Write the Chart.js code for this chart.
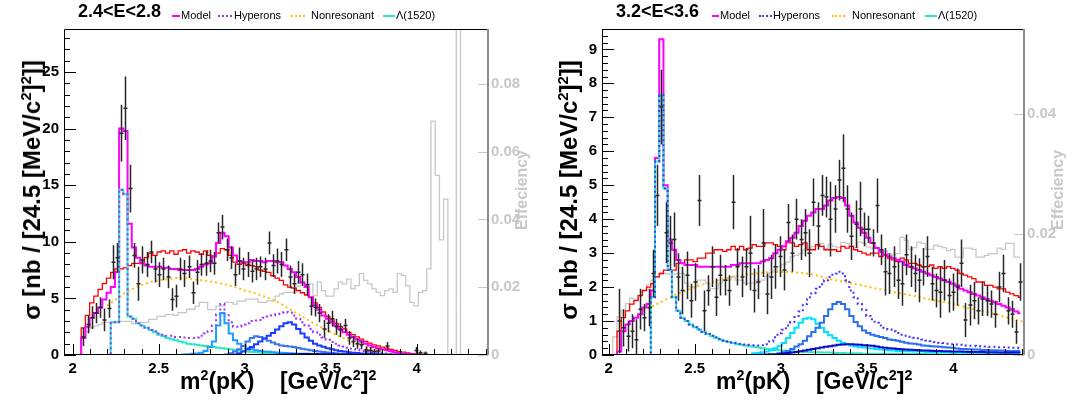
<!DOCTYPE html>
<html>
<head>
<meta charset="utf-8">
<script src="https://cdn.jsdelivr.net/npm/chart.js@4.4.1/dist/chart.umd.min.js"></script>
<style>
  html, body { margin: 0; padding: 0; background: #fff; }
  #wrap { position: relative; width: 1073px; height: 402px; overflow: hidden;
          font-family: "Liberation Sans", Arial, Helvetica, sans-serif; }
  canvas { position: absolute; top: 0; }
  .lbl { position: absolute; white-space: nowrap; line-height: 1; }
  .head { font-weight: bold; font-size: 18px; }
  .leg { font-size: 11px; }
  .sw { position: absolute; width: 0; height: 0; }
  .xt { font-weight: bold; font-size: 23px; }
  .yt { font-weight: bold; font-size: 24px; transform: translate(-50%, -50%) rotate(-90deg); }
  .et { font-weight: bold; font-size: 16px; color: #c8c8c8; transform: translate(-50%, -50%) rotate(-90deg); }
  .sup { font-size: 0.62em; position: relative; top: -0.62em; }
</style>
</head>
<body>
<div id="wrap">
  <canvas id="padLo" width="536" height="402" style="left:0"></canvas>
  <canvas id="padHi" width="537" height="402" style="left:536px"></canvas>

  <!-- left pad headings -->
  <div class="lbl head" style="left:78px;top:2px">2.4&lt;E&lt;2.8</div>
  <div class="sw" style="left:172px;top:15px;width:8px;border-top:2px solid #ff00ff"></div>
  <div class="lbl leg" style="left:181px;top:10px">Model</div>
  <div class="sw" style="left:218px;top:15px;width:14px;border-top:2px dotted #9933ff"></div>
  <div class="lbl leg" style="left:234px;top:10px">Hyperons</div>
  <div class="sw" style="left:291px;top:15px;width:14px;border-top:2px dotted #ffbf00"></div>
  <div class="lbl leg" style="left:311px;top:10px">Nonresonant</div>
  <div class="sw" style="left:383px;top:15px;width:12px;border-top:2px solid #2ee6c8"></div>
  <div class="lbl leg" style="left:396px;top:10px">&Lambda;(1520)</div>

  <!-- right pad headings -->
  <div class="lbl head" style="left:616px;top:2px">3.2&lt;E&lt;3.6</div>
  <div class="sw" style="left:712px;top:15px;width:7px;border-top:2px solid #ff00ff"></div>
  <div class="lbl leg" style="left:720px;top:10px">Model</div>
  <div class="sw" style="left:759px;top:15px;width:13px;border-top:2px dotted #4433ff"></div>
  <div class="lbl leg" style="left:773px;top:10px">Hyperons</div>
  <div class="sw" style="left:832px;top:15px;width:13px;border-top:2px dotted #ffbf00"></div>
  <div class="lbl leg" style="left:852px;top:10px">Nonresonant</div>
  <div class="sw" style="left:925px;top:15px;width:12px;border-top:2px solid #2ee6c8"></div>
  <div class="lbl leg" style="left:938px;top:10px">&Lambda;(1520)</div>

  <!-- axis titles -->
  <div class="lbl yt" style="left:32px;top:190px">&sigma; [nb / [24.5 [MeV/c<span class="sup">2</span>]<span class="sup">2</span>]]</div>
  <div class="lbl yt" style="left:569px;top:190px">&sigma; [nb / [24.5 [MeV/c<span class="sup">2</span>]<span class="sup">2</span>]]</div>
  <div class="lbl xt" style="left:180px;top:370px">m<span class="sup">2</span>(pK)&nbsp;&nbsp;&nbsp;&nbsp;[GeV/c<span class="sup">2</span>]<span class="sup">2</span></div>
  <div class="lbl xt" style="left:716px;top:370px">m<span class="sup">2</span>(pK)&nbsp;&nbsp;&nbsp;&nbsp;[GeV/c<span class="sup">2</span>]<span class="sup">2</span></div>
  <div class="lbl et" style="left:522px;top:190px">Effeciency</div>
  <div class="lbl et" style="left:1058px;top:190px">Effeciency</div>
</div>

<script>
// ------------------------------------------------------------
// m^2(pK) spectra, two beam-energy slices, with fit components
// ------------------------------------------------------------

// binning: 24.5 (MeV/c^2)^2 bins starting at 1.951 GeV^2
const BIN_LO = 1.951;
const BIN_W  = 0.0245;
const NBINS  = 100;

const X_TICKS      = [2, 2.5, 3, 3.5, 4];
const Y_TICKS_LO   = [0, 5, 10, 15, 20, 25];
const Y_TICKS_HI   = [0, 1, 2, 3, 4, 5, 6, 7, 8, 9];
const EFF_TICKS_LO = [0, 0.02, 0.04, 0.06, 0.08];
const EFF_TICKS_HI = [0, 0.02, 0.04];

// ---------------- 2.4 < E < 2.8 ----------------
const modelLoStart = 4;
const modelLo = [1.5, 2.5, 3.3, 3.7, 4.2, 4.9, 5.5, 6.0, 7.3, 20.0, 19.8, 11.6, 9.5, 8.6, 8.1, 7.9,
  7.8, 7.8, 7.8, 7.7, 7.7, 7.6, 7.6, 7.5, 7.5, 7.5, 7.5, 7.6, 7.8, 8.0, 8.1, 8.7, 9.9, 10.8, 10.5, 9.5,
  8.8, 8.3, 8.2, 8.2, 8.4, 8.3, 8.3, 8.2, 8.3, 8.3, 8.2, 8.2, 7.9, 7.6, 7.3, 6.9, 6.4, 6.0, 5.1, 4.4,
  4.0, 3.5, 3.2, 2.9, 2.6, 2.3, 2.0, 1.8, 1.6, 1.4, 1.2, 1.0, 0.85, 0.7, 0.6, 0.5, 0.44, 0.35, 0.25,
  0.18, 0.12, 0.08, 0.05, 0.03];

const sumLoStart = 4;
const sumLo = [2.4, 3.5, 4.6, 5.2, 5.8, 6.3, 6.8, 7.3, 7.6, 7.6, 7.7, 7.9, 8.1, 8.1, 8.2, 8.6, 9.0,
  8.8, 9.1, 9.2, 9.0, 9.2, 8.9, 9.2, 9.3, 9.0, 9.2, 9.1, 8.9, 9.2, 8.8, 8.7, 9.0, 9.4, 9.3, 8.8, 8.2,
  8.0, 8.1, 7.9, 7.9, 7.8, 7.5, 7.4, 7.3, 7.0, 6.8, 6.6, 6.2, 6.0, 5.9, 5.7, 5.5, 5.3, 5.1, 4.6, 4.2,
  3.8, 3.4, 3.1, 2.8, 2.5, 2.3, 2.0, 1.8, 1.6, 1.4, 1.2, 1.05, 0.9, 0.8, 0.7, 0.6, 0.5, 0.4, 0.3,
  0.25, 0.18, 0.12, 0.08, 0.05, 0.02];

const effLoStart = 4;
const effLo = [0.0054, 0.0069, 0.008, 0.0085, 0.009, 0.0096, 0.0096, 0.0096, 0.0099, 0.0099, 0.0099,
  0.0099, 0.0093, 0.0093, 0.0096, 0.0096, 0.0105, 0.0105, 0.0114, 0.0114, 0.012, 0.012, 0.0117,
  0.0125, 0.0125, 0.0135, 0.0135, 0.0144, 0.0155, 0.0155, 0.0134, 0.0134, 0.0144, 0.0144, 0.0155,
  0.0155, 0.015, 0.0159, 0.0159, 0.0165, 0.0165, 0.0165, 0.0155, 0.0155, 0.016, 0.016, 0.0174, 0.018,
  0.0185, 0.0185, 0.0185, 0.0203, 0.0215, 0.0205, 0.021, 0.0175, 0.0215, 0.019, 0.0174, 0.0174,
  0.0195, 0.0215, 0.021, 0.0224, 0.0195, 0.0205, 0.024, 0.022, 0.021, 0.0195, 0.0185, 0.0175, 0.019,
  0.0195, 0.0185, 0.024, 0.0235, 0.0205, 0.0155, 0.0145, 0.0185, 0.019, 0.0254, 0.069, 0.053, 0.034,
  0.046, 0, 0, 0.2];

const hypLoStart = 11;
const hypLo = [2.9, 2.9, 14.6, 14.2, 3.4, 3.2, 2.8, 2.6, 2.4, 2.2, 2.1, 1.9, 1.8, 1.7, 1.7, 1.6, 1.6,
  1.55, 1.5, 1.5, 1.55, 1.7, 1.9, 2.1, 2.6, 3.6, 4.5, 3.6, 2.9, 2.5, 2.5, 2.7, 2.8, 3.0, 3.05, 3.1,
  3.3, 3.4, 3.5, 3.6, 3.75, 3.8, 3.75, 3.5, 3.2, 2.9, 2.6, 2.3, 2.0, 1.8, 1.55, 1.35, 1.15, 1.0, 0.85,
  0.75, 0.65, 0.55, 0.48, 0.42, 0.36, 0.3, 0.25, 0.2, 0.17, 0.14, 0.12, 0.1, 0.08, 0.06, 0.04, 0.03,
  0.02];

const l1520LoStart = 11;
const l1520Lo = [2.9, 2.9, 14.6, 14.2, 3.4, 3.2, 2.8, 2.6, 2.4, 2.2, 2.0, 1.8, 1.65, 1.5, 1.4, 1.3,
  1.2, 1.1, 1.0, 0.95, 0.9, 0.85, 0.8, 0.75, 0.7, 0.65, 0.6, 0.55, 0.5, 0.45, 0.4, 0.35, 0.3, 0.27,
  0.24, 0.21, 0.18, 0.15, 0.13, 0.11, 0.1, 0.09, 0.08, 0.07, 0.06, 0.05, 0.05, 0.04, 0.04, 0.03, 0.03,
  0.02, 0.02, 0.02, 0.01];

const l1690LoStart = 28;
const l1690Lo = [0.05, 0.07, 0.1, 0.14, 0.2, 0.35, 0.7, 1.2, 2.6, 3.7, 2.8, 1.9, 1.3, 1.0, 0.8, 0.6,
  0.5, 0.42, 0.36, 0.32, 0.28, 0.25, 0.22, 0.2, 0.18, 0.16, 0.14, 0.12, 0.11, 0.1, 0.09, 0.08, 0.07,
  0.06, 0.05, 0.05, 0.04, 0.04, 0.03, 0.03, 0.02, 0.02];

const l1800LoStart = 38;
const l1800Lo = [0.05, 0.15, 0.3, 0.5, 0.8, 1.2, 1.5, 1.65, 1.6, 1.45, 1.25, 1.1, 0.95, 0.85, 0.8,
  0.75, 0.7, 0.62, 0.55, 0.48, 0.42, 0.36, 0.3, 0.26, 0.22, 0.18, 0.15, 0.12, 0.1, 0.08, 0.07, 0.06,
  0.05, 0.04, 0.04, 0.03, 0.03, 0.02, 0.02, 0.01, 0.01];

const l1820LoStart = 40;
const l1820Lo = [0.05, 0.15, 0.3, 0.5, 0.7, 0.95, 1.2, 1.45, 1.7, 1.95, 2.25, 2.55, 2.8, 2.9, 2.7,
  2.3, 1.9, 1.55, 1.25, 1.0, 0.85, 0.72, 0.6, 0.5, 0.42, 0.35, 0.3, 0.25, 0.2, 0.17, 0.14, 0.12, 0.1,
  0.08, 0.07, 0.06, 0.05, 0.04, 0.03, 0.03, 0.02, 0.02];

const wideLoStart = 50;
const wideLo = [0.02, 0.03, 0.04, 0.05, 0.06, 0.07, 0.08, 0.08, 0.08, 0.08, 0.07, 0.07, 0.06, 0.06,
  0.05, 0.05, 0.04, 0.04, 0.03, 0.03, 0.02, 0.02, 0.02, 0.01];

const nonresLoX = [2.20, 2.25, 2.30, 2.35, 2.40, 2.45, 2.50, 2.55, 2.60, 2.65, 2.70, 2.75, 2.80, 2.85,
  2.90, 2.95, 3.00, 3.05, 3.10, 3.15, 3.20, 3.25, 3.30, 3.35, 3.40, 3.45, 3.50, 3.55, 3.60, 3.65, 3.70,
  3.75, 3.80, 3.85, 3.90, 3.95, 4.00];
const nonresLoY = [4.35, 4.9, 5.45, 5.85, 6.2, 6.45, 6.6, 6.7, 6.8, 6.8, 6.7, 6.6, 6.5, 6.35, 6.2,
  5.95, 5.7, 5.5, 5.25, 4.95, 4.6, 4.15, 3.7, 3.25, 2.8, 2.4, 2.0, 1.65, 1.3, 0.95, 0.7, 0.5, 0.37,
  0.24, 0.13, 0.05, 0];

const dataLoStart = 4;
const dataLo = [1.6, 2.7, 3.3, 3.7, 4.2, 3.1, 4.1, 8.2, 8.6, 19.6, 21.8, 14.7, 8.8, 6.3, 8.4, 8.0,
  9.1, 7.6, 7.1, 7.6, 6.9, 4.9, 5.2, 7.6, 7.2, 7.8, 5.5, 7.3, 8.0, 8.1, 8.3, 8.1, 10.8, 11.3, 9.3, 8.6,
  7.1, 8.3, 7.6, 8.0, 7.4, 7.6, 7.8, 7.6, 9.9, 7.9, 8.3, 8.0, 9.3, 6.9, 6.3, 7.3, 7.1, 6.2, 4.3, 4.2,
  3.7, 2.3, 2.8, 3.2, 2.5, 2.2, 2.6, 1.5, 1.2, 1.0, 0.9, 0.44, 0.4, 0.3, 0.35, null, 0.8, null, null,
  null, null, null, null, 0.4, 0.2, 0.15];
const errLo = [0.8, 0.8, 1.0, 0.9, 0.9, 1.0, 0.8, 1.5, 1.3, 2.5, 2.8, 2.1, 1.1, 1.5, 1.2, 1.1, 1.0,
  1.2, 1.1, 1.0, 1.0, 1.0, 1.0, 1.0, 1.2, 1.0, 1.0, 1.1, 1.0, 1.1, 1.0, 1.0, 0.9, 1.1, 1.0, 1.0, 1.0,
  1.2, 1.0, 1.1, 1.0, 1.0, 0.9, 1.0, 1.0, 1.0, 1.1, 1.1, 1.0, 1.0, 0.9, 1.0, 1.0, 1.0, 0.8, 0.8, 0.8,
  0.8, 0.8, 0.7, 0.7, 0.6, 0.6, 0.6, 0.5, 0.45, 0.4, 0.3, 0.3, 0.25, 0.25, 0, 0.35, 0, 0, 0, 0, 0, 0,
  0.3, 0.2, 0.15];

// ---------------- 3.2 < E < 3.6 ----------------
const modelHiStart = 4;
const modelHi = [0.1, 0.7, 0.9, 1.0, 1.1, 1.2, 1.4, 1.5, 1.9, 5.8, 9.3, 5.0, 3.4, 3.1, 2.8, 2.7,
  2.65, 2.65, 2.65, 2.6, 2.6, 2.6, 2.6, 2.6, 2.6, 2.6, 2.6, 2.65, 2.65, 2.7, 2.7, 2.7, 2.7, 2.7, 2.75,
  2.8, 2.85, 3.0, 3.1, 3.2, 3.35, 3.45, 3.6, 3.8, 3.95, 4.1, 4.2, 4.3, 4.3, 4.4, 4.55, 4.62, 4.65,
  4.62, 4.4, 4.1, 3.9, 3.75, 3.6, 3.45, 3.3, 3.15, 3.05, 2.95, 2.9, 2.85, 2.8, 2.75, 2.65, 2.6, 2.55,
  2.5, 2.45, 2.4, 2.35, 2.3, 2.25, 2.2, 2.15, 2.1, 2.05, 1.95, 1.9, 1.85, 1.8, 1.75, 1.7, 1.65, 1.6,
  1.55, 1.5, 1.45, 1.4, 1.35, 1.28, 1.23];

const sumHiStart = 4;
const sumHi = [0.7, 1.1, 1.3, 1.5, 1.6, 1.75, 1.9, 2.0, 2.1, 2.3, 2.4, 2.5, 2.5, 2.5, 2.7, 2.7, 2.8,
  2.8, 2.75, 2.85, 2.85, 3.0, 3.0, 3.1, 3.1, 3.05, 3.1, 3.2, 3.1, 3.2, 3.1, 3.15, 3.25, 3.2, 3.2, 3.3,
  3.3, 3.25, 3.2, 3.1, 3.3, 3.3, 3.2, 3.25, 3.3, 3.1, 3.1, 3.25, 3.2, 3.1, 3.1, 3.1, 3.05, 3.2, 3.15,
  3.2, 3.1, 3.05, 3.0, 2.95, 3.0, 3.0, 2.9, 2.95, 2.85, 2.8, 2.75, 2.85, 2.8, 2.7, 2.7, 2.65, 2.6, 2.6,
  2.65, 2.55, 2.6, 2.55, 2.6, 2.55, 2.5, 2.4, 2.35, 2.3, 2.25, 2.15, 2.15, 2.05, 2.05, 2.0, 1.95,
  1.95, 1.85, 1.8, 1.75, 1.7];

const effHiStart = 3;
const effHi = [0.003, 0.0063, 0.0074, 0.0085, 0.0094, 0.0092, 0.0099, 0.0107, 0.0116, 0.0124,
  0.0129, 0.0135, 0.0135, 0.0134, 0.0134, 0.0135, 0.0135, 0.0119, 0.0113, 0.0113, 0.0124, 0.0124,
  0.0119, 0.011, 0.011, 0.0119, 0.0124, 0.0124, 0.013, 0.0124, 0.0124, 0.0119, 0.0119, 0.0119,
  0.0124, 0.0124, 0.013, 0.0137, 0.014, 0.0146, 0.015, 0.0154, 0.0163, 0.0165, 0.0168, 0.0174,
  0.0177, 0.018, 0.0181, 0.0185, 0.0176, 0.0183, 0.018, 0.0178, 0.0187, 0.0185, 0.018, 0.0178,
  0.0187, 0.0185, 0.0179, 0.0177, 0.0177, 0.017, 0.0172, 0.0168, 0.0166, 0.0168, 0.0195, 0.019,
  0.0175, 0.0178, 0.0187, 0.0185, 0.0175, 0.0175, 0.0182, 0.018, 0.0178, 0.0173, 0.0175, 0.0162,
  0.0162, 0.0177, 0.0177, 0.0175, 0.0162, 0.0162, 0.0165, 0.0168, 0.0168, 0.0177, 0.0175, 0.0185,
  0.0185, 0.0162, 0.0162];

const hypHiStart = 12;
const hypHi = [1.7, 5.7, 7.65, 4.9, 2.5, 1.7, 1.3, 1.1, 1.0, 0.9, 0.82, 0.75, 0.68, 0.62, 0.57, 0.52,
  0.47, 0.43, 0.4, 0.37, 0.35, 0.33, 0.31, 0.3, 0.29, 0.28, 0.29, 0.32, 0.4, 0.52, 0.64, 0.74, 0.87,
  0.97, 1.12, 1.28, 1.5, 1.7, 1.82, 1.95, 2.08, 2.2, 2.3, 2.4, 2.45, 2.4, 2.2, 1.9, 1.7, 1.5, 1.33,
  1.15, 1.05, 0.95, 0.87, 0.8, 0.75, 0.7, 0.65, 0.6, 0.57, 0.54, 0.51, 0.49, 0.46, 0.43, 0.41, 0.38,
  0.36, 0.35, 0.33, 0.32, 0.31, 0.3, 0.28, 0.27, 0.27, 0.26, 0.25, 0.25, 0.24, 0.24, 0.23, 0.23, 0.22,
  0.21, 0.21, 0.2];

const l1520HiStart = 12;
const l1520Hi = [1.7, 5.7, 7.65, 4.9, 2.5, 1.7, 1.3, 1.1, 1.0, 0.9, 0.82, 0.75, 0.68, 0.62, 0.56,
  0.5, 0.45, 0.41, 0.38, 0.35, 0.32, 0.3, 0.28, 0.26, 0.24, 0.22, 0.2, 0.18, 0.17, 0.15, 0.14, 0.13,
  0.12, 0.11, 0.1, 0.1, 0.09, 0.09, 0.08, 0.08, 0.07, 0.07, 0.07, 0.06, 0.06, 0.06, 0.05, 0.05, 0.05,
  0.05, 0.04, 0.04, 0.04, 0.04, 0.04, 0.04, 0.03, 0.03, 0.03, 0.03, 0.03, 0.03, 0.03, 0.03, 0.03,
  0.02, 0.02, 0.02, 0.02, 0.02, 0.02, 0.02, 0.02, 0.02, 0.02, 0.02, 0.02, 0.02, 0.02, 0.02, 0.02,
  0.02, 0.02, 0.02, 0.02, 0.02, 0.02, 0.02];

const l1690HiStart = 36;
const l1690Hi = [0.05, 0.06, 0.08, 0.1, 0.14, 0.2, 0.26, 0.35, 0.5, 0.65, 0.8, 0.95, 1.07, 1.1, 1.05,
  0.92, 0.8, 0.68, 0.58, 0.5, 0.42, 0.36, 0.32, 0.28, 0.25, 0.23, 0.22, 0.2, 0.19, 0.17, 0.16, 0.15,
  0.14, 0.13, 0.12, 0.12, 0.11, 0.11, 0.1, 0.1, 0.1, 0.09, 0.09, 0.09, 0.08, 0.08, 0.08, 0.08, 0.07,
  0.07, 0.07, 0.07, 0.07, 0.06, 0.06, 0.06, 0.06, 0.06, 0.06, 0.05, 0.05, 0.05, 0.05, 0.05];

const l1820HiStart = 42;
const l1820Hi = [0.05, 0.08, 0.12, 0.18, 0.25, 0.32, 0.42, 0.55, 0.68, 0.8, 0.95, 1.15, 1.35, 1.5,
  1.56, 1.5, 1.35, 1.15, 0.97, 0.85, 0.72, 0.65, 0.6, 0.56, 0.53, 0.5, 0.46, 0.44, 0.42, 0.39, 0.36,
  0.34, 0.33, 0.31, 0.28, 0.27, 0.26, 0.25, 0.24, 0.23, 0.22, 0.21, 0.19, 0.18, 0.18, 0.17, 0.16,
  0.16, 0.15, 0.15, 0.14, 0.14, 0.13, 0.13, 0.12, 0.12, 0.12, 0.11];

const wideHiStart = 38;
const wideHi = [0.01, 0.015, 0.02, 0.025, 0.03, 0.045, 0.06, 0.075, 0.09, 0.11, 0.13, 0.155, 0.18,
  0.2, 0.22, 0.24, 0.26, 0.28, 0.3, 0.31, 0.32, 0.32, 0.31, 0.3, 0.29, 0.28, 0.27, 0.25, 0.23, 0.215,
  0.2, 0.19, 0.18, 0.17, 0.16, 0.155, 0.15, 0.14, 0.135, 0.13, 0.125, 0.12, 0.115, 0.11, 0.11, 0.105,
  0.1, 0.1, 0.095, 0.09, 0.09, 0.085, 0.085, 0.08, 0.08, 0.08, 0.075, 0.075, 0.075, 0.07, 0.07, 0.07];

const nonresHiX = [2.20, 2.25, 2.30, 2.35, 2.40, 2.45, 2.50, 2.55, 2.60, 2.65, 2.70, 2.75, 2.80, 2.85,
  2.90, 2.95, 3.00, 3.05, 3.10, 3.15, 3.20, 3.25, 3.30, 3.35, 3.40, 3.45, 3.50, 3.55, 3.60, 3.65, 3.70,
  3.75, 3.80, 3.85, 3.90, 3.95, 4.00, 4.05, 4.10, 4.15, 4.20, 4.25, 4.30, 4.35, 4.40];
const nonresHiY = [1.3, 1.42, 1.55, 1.68, 1.8, 1.9, 2.0, 2.08, 2.15, 2.22, 2.28, 2.33, 2.37, 2.4,
  2.43, 2.44, 2.45, 2.44, 2.43, 2.4, 2.35, 2.29, 2.22, 2.17, 2.12, 2.07, 2.02, 1.96, 1.91, 1.86, 1.81,
  1.76, 1.71, 1.65, 1.6, 1.55, 1.5, 1.43, 1.37, 1.31, 1.26, 1.19, 1.12, 1.06, 0.99];

const dataHiStart = 4;
const dataHi = [1.0, 0.8, 0.55, 0.7, 0.45, 1.35, 1.1, 1.4, 2.4, 4.7, 7.3, 3.6, 3.3, 3.4, 2.3, 1.9,
  2.35, 1.6, 2.15, 4.55, 1.3, 1.9, 2.6, 1.7, 2.35, 2.2, 1.9, 4.5, 2.6, 2.3, 2.6, 3.0, 1.9, 2.15, 3.3,
  1.8, 2.3, 2.6, 2.9, 2.5, 3.9, 3.0, 4.0, 3.4, 3.6, 3.0, 4.5, 3.8, 4.7, 4.65, 4.0, 4.3, 5.15, 5.5, 4.3,
  3.5, 3.85, 4.3, 3.7, 3.7, 3.3, 4.4, 3.1, 2.45, 2.4, 2.6, 2.2, 2.1, 2.95, 2.6, 2.4, 2.2, 2.6, 2.9,
  2.1, 1.9, 1.85, 2.2, 1.75, 1.85, 2.0, 2.7, 1.03, 1.47, 1.6, 1.3, 1.65, 1.6, 1.5, 1.2, 2.0, 2.4, 1.3,
  1.2, 0.68, 2.15];
const errHi = [0.95, 0.55, 0.45, 0.5, 0.6, 0.6, 0.4, 0.55, 0.7, 0.9, 1.1, 0.9, 0.8, 0.8, 0.7, 0.7,
  0.7, 0.5, 0.55, 0.75, 0.6, 0.45, 0.6, 0.55, 0.6, 0.45, 0.45, 0.8, 0.55, 0.6, 0.55, 1.1, 0.65, 0.5,
  1.0, 0.6, 0.65, 0.65, 0.6, 0.6, 0.55, 0.55, 0.6, 0.6, 0.7, 0.7, 0.7, 0.7, 0.6, 0.6, 1.1, 0.7, 0.6,
  1.0, 0.7, 0.7, 0.7, 0.8, 0.5, 0.4, 0.4, 0.8, 0.45, 0.7, 0.6, 0.6, 0.55, 0.65, 0.6, 0.6, 0.55, 0.65,
  0.55, 0.6, 0.5, 0.5, 0.75, 0.6, 0.5, 0.55, 0.55, 0.7, 0.5, 0.6, 0.55, 0.4, 0.5, 0.45, 0.4, 0.4,
  0.45, 0.55, 0.4, 0.4, 0.35, 0.55];

// ------------------------------------------------------------
// helpers
// ------------------------------------------------------------
function binX(i) { return BIN_LO + (i + 0.5) * BIN_W; }

// full histogram over all bins, zero outside the filled range
function hist(start, vals) {
  const out = [];
  for (let i = 0; i < NBINS; i++) {
    const k = i - start;
    out.push({ x: binX(i), y: (k >= 0 && k < vals.length) ? vals[k] : 0 });
  }
  return out;
}

function binPoints(start, vals) {
  return vals.map((v, k) => ({ x: binX(start + k), y: v }));
}

function xyPoints(xs, ys) {
  return xs.map((x, k) => ({ x: x, y: ys[k] }));
}

function fmt(v) { return v === 0 ? '0' : String(v); }

function histSet(data, color, width, order, axis) {
  return {
    data: data, borderColor: color, borderWidth: width, stepped: 'middle',
    pointRadius: 0, fill: false, order: order, yAxisID: axis || 'y'
  };
}

function dotSet(data, color, order, stepped) {
  return {
    data: data, borderColor: color, borderWidth: 2, borderDash: [2, 3],
    stepped: stepped ? 'middle' : false, pointRadius: 0, fill: false, order: order, yAxisID: 'y'
  };
}

// frame + inward ROOT-style ticks
const rootFrame = {
  id: 'rootFrame',
  afterDraw(chart) {
    const o = chart.options.plugins.rootFrame;
    const { ctx, chartArea: a } = chart;
    const xs = chart.scales.x, ys = chart.scales.y, es = chart.scales.eff;
    ctx.save();
    ctx.strokeStyle = '#000';
    ctx.lineWidth = 1;
    ctx.beginPath();
    ctx.moveTo(a.left + 0.5, a.bottom);
    ctx.lineTo(a.left + 0.5, a.top + 0.5);
    ctx.lineTo(a.right, a.top + 0.5);
    ctx.moveTo(a.left, a.bottom - 0.5);
    ctx.lineTo(a.right, a.bottom - 0.5);

    for (let v = 2.0; v <= 4.41; v += 0.1) {
      const px = Math.round(xs.getPixelForValue(v)) + 0.5;
      const major = X_TICKS.some(t => Math.abs(t - v) < 1e-6);
      ctx.moveTo(px, a.bottom);
      ctx.lineTo(px, a.bottom - (major ? 11 : 6));
    }
    for (let v = 0; v <= o.yMax + 1e-9; v += o.yMinor) {
      const py = Math.round(ys.getPixelForValue(v)) + 0.5;
      const major = o.yTicks.some(t => Math.abs(t - v) < 1e-6);
      ctx.moveTo(a.left, py);
      ctx.lineTo(a.left + (major ? 12 : 6), py);
    }
    ctx.stroke();

    // efficiency axis on the right
    ctx.strokeStyle = '#c8c8c8';
    ctx.beginPath();
    o.effTicks.forEach(t => {
      const py = Math.round(es.getPixelForValue(t)) + 0.5;
      ctx.moveTo(a.right, py);
      ctx.lineTo(a.right - 10, py);
    });
    ctx.stroke();
    ctx.strokeStyle = '#8c8c8c';
    ctx.lineWidth = 2;
    ctx.beginPath();
    ctx.moveTo(a.right, a.top);
    ctx.lineTo(a.right, a.bottom);
    ctx.stroke();
    ctx.restore();
  }
};

// vertical error bars with a short tick at the measured value
const errorBars = {
  id: 'errorBars',
  afterDatasetsDraw(chart) {
    const { ctx, chartArea: a } = chart;
    const xs = chart.scales.x, ys = chart.scales.y;
    ctx.save();
    ctx.beginPath();
    ctx.rect(a.left, a.top, a.right - a.left, a.bottom - a.top);
    ctx.clip();
    ctx.beginPath();
    chart.data.datasets.forEach(ds => {
      if (!ds.errors) return;
      ds.data.forEach((p, k) => {
        if (p.y === null) return;
        const px = Math.round(xs.getPixelForValue(p.x)) + 0.5;
        const e = ds.errors[k];
        const yc = ys.getPixelForValue(p.y);
        ctx.moveTo(px, ys.getPixelForValue(p.y - e));
        ctx.lineTo(px, ys.getPixelForValue(p.y + e));
        ctx.moveTo(px - 2, yc);
        ctx.lineTo(px + 2, yc);
      });
    });
    ctx.strokeStyle = '#262626';
    ctx.lineWidth = 1.5;
    ctx.stroke();
    ctx.restore();
  }
};

const TICK_FONT = { family: '"Liberation Sans", Arial, sans-serif', size: 15, weight: 'bold' };

function buildPad(id, pad) {
  return new Chart(document.getElementById(id), {
    type: 'line',
    data: { datasets: pad.datasets },
    options: {
      responsive: false,
      animation: false,
      devicePixelRatio: 1,
      parsing: false,
      events: [],
      layout: { padding: { top: 29, left: 0, right: 0, bottom: 0 } },
      plugins: {
        legend: { display: false },
        tooltip: { enabled: false },
        rootFrame: { yMax: pad.yMax, yMinor: pad.yMinor, yTicks: pad.yTicks, effTicks: pad.effTicks }
      },
      scales: {
        x: {
          type: 'linear', min: pad.xMin, max: pad.xMax,
          grid: { display: false, drawTicks: false }, border: { display: false },
          ticks: { font: TICK_FONT, color: '#000', padding: 5, maxRotation: 0, callback: v => fmt(v) },
          afterBuildTicks: s => { s.ticks = X_TICKS.map(v => ({ value: v })); },
          afterFit: s => { s.height = 47; }
        },
        y: {
          type: 'linear', position: 'left', min: 0, max: pad.yMax,
          grid: { display: false, drawTicks: false }, border: { display: false },
          ticks: { font: TICK_FONT, color: '#000', padding: 5, callback: v => fmt(v) },
          afterBuildTicks: s => { s.ticks = pad.yTicks.map(v => ({ value: v })); },
          afterFit: s => { s.width = pad.yWidth; }
        },
        eff: {
          type: 'linear', position: 'right', min: 0, max: pad.effMax,
          grid: { display: false, drawTicks: false }, border: { display: false },
          ticks: { font: TICK_FONT, color: '#c8c8c8', padding: 3, callback: v => fmt(v) },
          afterBuildTicks: s => { s.ticks = pad.effTicks.map(v => ({ value: v })); },
          afterFit: s => { s.width = pad.effWidth; }
        }
      }
    },
    plugins: [rootFrame, errorBars]
  });
}

// 2.4 < E < 2.8
buildPad('padLo', {
  xMin: 1.949, xMax: 4.414, yMax: 28.8, yMinor: 1, yTicks: Y_TICKS_LO,
  effMax: 0.0962, effTicks: EFF_TICKS_LO, yWidth: 64, effWidth: 48,
  datasets: [
    { data: binPoints(dataLoStart, dataLo), errors: errLo, showLine: false, pointRadius: 0, order: 0 },
    histSet(hist(wideLoStart, wideLo), '#0000dd', 2, 1),
    histSet(hist(l1820LoStart, l1820Lo), '#1a3cff', 2, 2),
    histSet(hist(l1800LoStart, l1800Lo), '#3a78e6', 2, 3),
    histSet(hist(l1690LoStart, l1690Lo), '#1e9bff', 2, 4),
    dotSet(hist(hypLoStart, hypLo), '#9933ff', 5, true),
    histSet(hist(l1520LoStart, l1520Lo), '#2ee6c8', 2, 6),
    histSet(hist(modelLoStart, modelLo), '#ff00ff', 2, 7),
    histSet(hist(sumLoStart, sumLo), '#ff0000', 1.3, 8),
    dotSet(xyPoints(nonresLoX, nonresLoY), '#ffbf00', 9, false),
    histSet(hist(effLoStart, effLo), '#c8c8c8', 1.3, 10, 'eff')
  ]
});

// 3.2 < E < 3.6
buildPad('padHi', {
  xMin: 1.962, xMax: 4.41, yMax: 9.6, yMinor: 0.2, yTicks: Y_TICKS_HI,
  effMax: 0.054, effTicks: EFF_TICKS_HI, yWidth: 66, effWidth: 49,
  datasets: [
    { data: binPoints(dataHiStart, dataHi), errors: errHi, showLine: false, pointRadius: 0, order: 0 },
    histSet(hist(wideHiStart, wideHi), '#0a0ad0', 2, 1),
    histSet(hist(l1820HiStart, l1820Hi), '#2a6ff0', 2, 2),
    histSet(hist(l1690HiStart, l1690Hi), '#00e0ff', 2, 3),
    dotSet(hist(hypHiStart, hypHi), '#4433ff', 4, true),
    histSet(hist(l1520HiStart, l1520Hi), '#2ee6c8', 2, 5),
    histSet(hist(modelHiStart, modelHi), '#ff00ff', 2, 6),
    histSet(hist(sumHiStart, sumHi), '#ff0000', 1.3, 7),
    dotSet(xyPoints(nonresHiX, nonresHiY), '#ffbf00', 8, false),
    histSet(hist(effHiStart, effHi), '#c8c8c8', 1.3, 9, 'eff')
  ]
});
</script>
</body>
</html>
